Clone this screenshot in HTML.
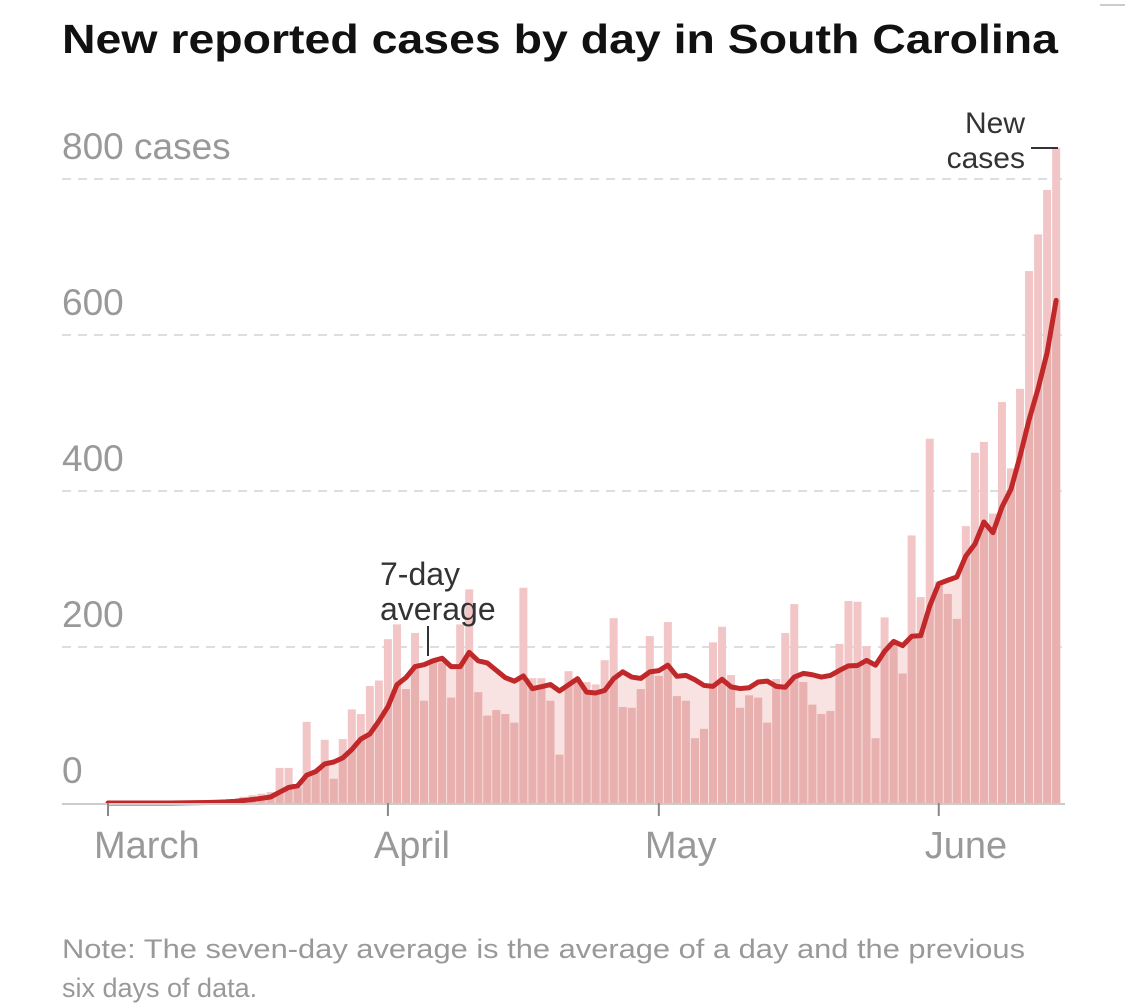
<!DOCTYPE html>
<html><head><meta charset="utf-8"><style>
body{margin:0;background:#fff;font-family:"Liberation Sans",sans-serif}
svg{display:block}
</style></head><body>
<svg width="1125" height="1005" viewBox="0 0 1125 1005">
<line x1="1100" y1="5" x2="1125" y2="5" stroke="#bbb" stroke-width="1.5"/>
<text x="62" y="53" font-size="41" font-weight="bold" fill="#111" textLength="996" lengthAdjust="spacingAndGlyphs">New reported cases by day in South Carolina</text>
<g id="grid"></g>
<g id="area"></g>
<g id="bars"></g>
<g id="line"></g>
<g id="axis"></g>
<text x="380" y="585" font-size="32" fill="#333">7-day</text>
<text x="380" y="620" font-size="32" fill="#333">average</text>
<line x1="428" y1="626" x2="428" y2="656" stroke="#333" stroke-width="2"/>
<text x="1025" y="133" font-size="30" fill="#333" text-anchor="end">New</text>
<text x="1025" y="168" font-size="30" fill="#333" text-anchor="end">cases</text>
<line x1="1031" y1="148" x2="1058" y2="148" stroke="#333" stroke-width="2"/>
<text x="62" y="958" font-size="27" fill="#999" textLength="963" lengthAdjust="spacingAndGlyphs">Note: The seven-day average is the average of a day and the previous</text>
<text x="62" y="997" font-size="27" fill="#999">six days of data.</text>
</svg>
<script>
const cases=[0,0,0,0,0,0,0,0,1,1,1,2,2,3,5,8,10,12,14,45,45,20,104,42,81,31,82,120,114,150,157,
210,229,146,218,131,185,180,135,229,274,142,112,119,114,103,276,160,160,131,62,169,158,155,152,183,237,123,122,146,214,163,232,137,131,83,95,206,226,164,122,138,135,103,159,218,255,155,126,114,118,204,
259,258,201,83,238,207,166,343,264,467,284,268,236,355,449,463,371,514,429,531,682,729,786,840];
const yTicks=[0,200,400,600,800];
const yTickLabels=["0","200","400","600","800 cases"];
const months=["March","April","May","June"];
const monthDayIndex=[0,31,61,92];

const NS="http://www.w3.org/2000/svg";
const x0=108,dx=9.03,y0=803,ky=0.78;
const X=i=>x0+i*dx, Y=v=>y0-v*ky;
function mk(tag,attrs,parent){const e=document.createElementNS(NS,tag);for(const k in attrs)e.setAttribute(k,attrs[k]);parent.appendChild(e);return e;}
const avg=cases.map((v,i)=>{let s=0;for(let j=Math.max(0,i-6);j<=i;j++){s+=cases[j];}return s/7;});

const grid=document.getElementById('grid');
yTicks.forEach((t,k)=>{
  if(t>0){const l=mk('line',{x1:62,x2:1062,y1:Y(t),y2:Y(t),stroke:'#ddd','stroke-width':2,'stroke-dasharray':'9,7'},grid);
  
  }
  const tx=mk('text',{x:62,y:Y(t)-20,'font-size':37,fill:'#999'},grid);
  tx.textContent=yTickLabels[k];
  
  
});

let d='M'+(X(0)-4.5)+','+y0;
avg.forEach((v,i)=>{d+=' L'+X(i)+','+Y(v);});
d+=' L'+(X(cases.length-1)+4.5)+','+Y(avg[avg.length-1])+' L'+(X(cases.length-1)+4.5)+','+y0+' Z';
const defs=mk('defs',{},document.querySelector('svg'));
const cp=mk('clipPath',{id:'under'},defs);
mk('path',{d:d},cp);
const area=mk('path',{d:d,fill:'#f8e2e2'},document.getElementById('area'));



const bars=document.getElementById('bars');
cases.forEach((v,i)=>{
  const r=mk('rect',{x:X(i)-4,y:Y(v),width:8,height:v*ky,fill:'#f2c6c6'},bars);
  
  
});
const darkG=mk('g',{'clip-path':'url(#under)'},bars);


cases.forEach((v,i)=>{
  const r=mk('rect',{x:X(i)-4,y:Y(v),width:8,height:v*ky,fill:'#e9b0b0'},darkG);
  
  
});

let ld='';
avg.forEach((v,i)=>{ld+=(i?' L':'M')+X(i)+','+Y(v);});
const line=mk('path',{d:ld,fill:'none',stroke:'#c0282a','stroke-width':5,'stroke-linejoin':'round','stroke-linecap':'round'},document.getElementById('line'));



const ax=document.getElementById('axis');
const al=mk('line',{x1:62,x2:1065,y1:y0+1,y2:y0+1,stroke:'#ccc','stroke-width':2},ax);


months.forEach((m,k)=>{
  const xx=X(monthDayIndex[k]);
  const t=mk('line',{x1:xx,x2:xx,y1:y0,y2:y0+13,stroke:'#888','stroke-width':2},ax);
  
  
  const tx=mk('text',{x:xx-14,y:858,'font-size':38,fill:'#999'},ax);
  tx.textContent=m;
  
  
});
</script>
</body></html>
